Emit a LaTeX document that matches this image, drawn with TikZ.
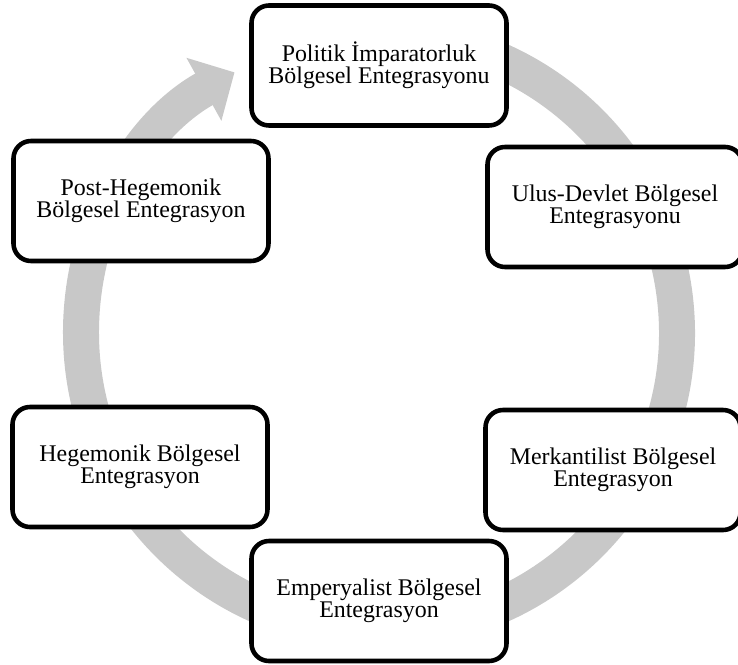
\documentclass[tikz,border=0pt]{standalone}
\usepackage{fontspec}
\setmainfont{Liberation Serif}
\usepackage{tikz}
\usetikzlibrary{arrows.meta}
\definecolor{cyclegray}{RGB}{200,200,200}
\tikzset{stage/.style={draw=black,line width=2.6pt,rounded corners=0.35cm,
  fill=white,minimum width=5.1cm,minimum height=2.4cm,align=center,
  font=\fontsize{13.6}{12.6}\selectfont}}

\begin{document}
\begin{tikzpicture}[line cap=round]
  \useasboundingbox (-7.58,-6.62) rectangle (7.18,6.66);

  % the cycle behind the boxes
  \draw [line width=0.72cm,cyclegray,-{Triangle[length=0.7cm,width=1.4cm]}]
    (95:5.96) arc [start angle=95,end angle=-241,radius=5.96];

  \node [stage] (imparatorluk) at (0,5.35) {Politik İmparatorluk\\Bölgesel Entegrasyonu};
  \node [stage] (ulusdevlet) at (4.72,2.52) {Ulus-Devlet Bölgesel\\Entegrasyonu};
  \node [stage] (merkantilist) at (4.68,-2.74) {Merkantilist Bölgesel\\Entegrasyon};

  \node [stage] (emperyalist) at (0,-5.36) {Emperyalist Bölgesel\\Entegrasyon};
  \node [stage] (hegemonik) at (-4.78,-2.68) {Hegemonik Bölgesel\\Entegrasyon};
  \node [stage] (posthegemonik) at (-4.76,2.64) {Post-Hegemonik\\Bölgesel Entegrasyon};

\end{tikzpicture}
\end{document}
